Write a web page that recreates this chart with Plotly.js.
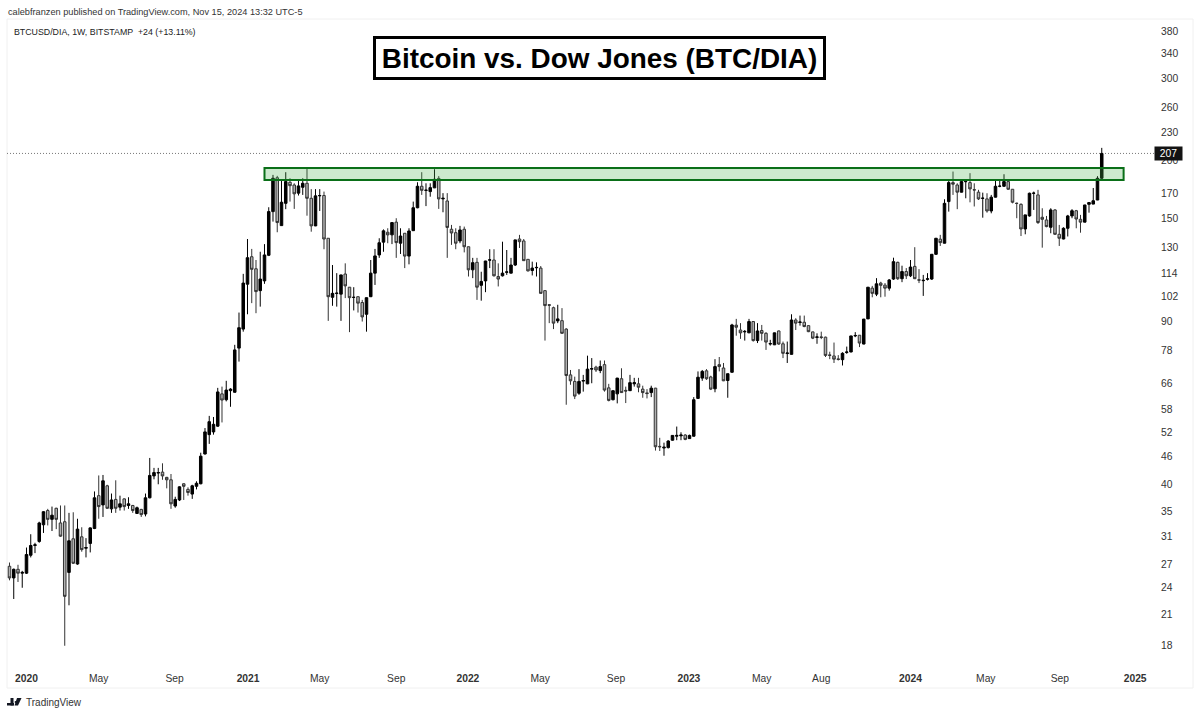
<!DOCTYPE html>
<html><head><meta charset="utf-8">
<script src="https://cdn.plot.ly/plotly-3.0.1.min.js"></script>
<style>html,body{margin:0;padding:0;background:#fff}#c{width:1200px;height:714px}</style>
</head><body><div id="c"></div>
<script>
const firstWeek = [2019, 11, 9];
const openPrices = [
26.7,25.2,26.3,25.8,25.8,28.2,29.6,30.2,32.8,35.2,
33.7,35.6,33.1,33.3,25.9,30.6,27.0,30.9,29.2,29.9,
32.2,37.9,36.2,39.8,35.5,37.2,35.8,37.3,36.1,36.1,
34.7,35.4,34.6,37.5,41.8,42.4,42.6,41.5,41.0,36.0,
37.1,40.2,39.1,38.2,39.7,40.2,46.6,51.3,52.0,53.5,
62.8,61.0,63.8,63.3,78.8,86.6,108.2,124.0,116.8,104.8,
110.0,124.9,155.1,183.5,144.7,161.6,179.4,177.0,170.0,175.0,
178.5,165.7,144.5,167.7,168.0,135.9,101.4,103.3,103.0,113.8,
106.6,101.3,101.7,98.8,93.2,101.7,114.3,125.1,133.3,140.0,
138.2,147.2,132.6,139.3,124.4,141.1,158.1,175.9,172.3,171.3,
174.5,182.9,165.2,163.5,142.1,139.7,134.1,142.1,130.3,116.2,
120.6,107.6,110.0,121.9,122.0,112.4,112.8,114.8,114.3,119.0,
135.4,134.1,122.4,115.8,117.4,117.2,104.8,97.7,96.3,90.2,
90.3,86.6,69.0,66.8,63.0,66.9,66.0,71.0,71.7,70.5,
72.6,64.7,61.0,62.8,67.7,63.9,63.8,66.0,66.0,64.3,
63.1,63.2,64.6,48.4,48.0,48.1,49.9,50.9,51.0,51.2,
50.3,50.9,61.4,67.9,70.4,68.3,64.4,72.6,71.4,67.1,
69.9,88.3,86.2,85.4,85.0,89.9,81.8,86.0,84.8,80.4,
80.1,85.8,80.5,76.7,76.4,90.6,89.5,89.6,88.1,85.4,
83.1,83.3,83.2,76.2,75.8,74.7,74.4,77.1,77.3,83.7,
84.0,80.4,91.1,106.1,103.0,108.8,107.7,106.1,111.0,120.6,
111.2,115.2,112.8,118.2,110.6,110.1,110.9,111.0,125.5,135.3,
132.6,163.0,179.1,177.0,170.8,179.9,179.1,172.9,170.8,165.6,
165.2,155.6,166.6,175.8,175.9,180.0,173.3,161.7,160.8,142.3,
151.8,169.8,168.5,150.8,148.8,143.5,156.4,138.6,135.4,142.8,
151.8,155.8,149.3,147.2,160.8,161.0,164.3,183.0];
const closePrices = [
25.2,26.3,25.8,25.9,28.3,29.6,29.7,33.1,35.0,33.7,
34.4,33.7,31.0,23.0,30.3,27.1,32.1,29.0,29.3,32.3,
37.5,35.9,40.8,35.6,37.1,35.6,36.4,35.9,36.4,35.2,
35.7,34.5,37.5,41.9,42.5,42.5,41.8,41.0,36.4,37.2,
39.6,39.7,38.5,39.8,40.3,46.1,52.0,54.7,54.0,63.4,
60.9,64.0,64.3,78.1,87.2,108.8,123.4,116.5,104.3,111.0,
125.1,155.1,183.0,146.9,162.5,180.0,176.4,169.4,176.2,178.5,
165.7,144.5,167.7,168.0,135.4,101.7,103.4,103.5,113.3,107.3,
101.2,101.4,98.5,92.0,101.2,114.3,124.5,132.9,141.0,138.2,
146.9,133.0,137.4,124.4,140.9,158.1,175.9,172.4,172.5,174.7,
182.1,165.2,165.7,143.4,139.5,132.6,141.6,130.3,116.2,120.4,
106.6,109.7,121.4,122.1,112.8,111.0,114.3,115.0,119.0,134.8,
133.6,121.6,115.6,117.2,117.6,103.4,97.3,97.5,89.2,91.1,
84.8,68.8,67.0,62.1,66.8,67.1,71.0,71.2,70.7,71.9,
64.0,60.8,63.8,67.9,63.2,63.7,66.4,66.4,64.9,63.2,
62.9,64.6,48.3,48.3,48.2,49.7,51.1,51.1,51.2,50.1,
51.1,61.0,68.2,70.2,67.7,64.3,71.9,71.9,67.0,69.4,
88.4,87.4,85.0,85.6,89.9,81.8,85.8,84.8,81.2,80.6,
85.0,80.4,76.8,76.9,90.6,89.2,89.7,87.7,85.5,82.8,
83.3,83.1,76.0,76.0,74.6,74.5,76.8,77.3,83.7,83.9,
80.8,91.0,106.6,103.4,108.4,107.6,106.1,110.5,121.0,111.2,
115.2,112.8,117.8,111.2,110.4,110.3,111.1,125.5,135.9,133.0,
161.6,179.1,177.7,170.8,180.0,180.1,173.6,172.7,165.2,165.8,
155.6,166.6,175.9,176.0,180.0,173.3,162.5,161.5,142.3,152.6,
169.9,170.0,146.9,149.3,144.0,156.4,138.6,135.9,142.8,151.8,
155.8,149.5,147.2,160.3,162.2,163.7,183.0,207.0];
const highPrices = [
27.2,26.4,26.9,26.1,29.3,31.3,30.0,33.3,35.1,35.5,
35.9,35.7,36.1,36.1,34.8,34.9,33.8,32.4,30.7,32.4,
38.7,41.9,42.0,40.0,38.3,40.9,37.9,37.4,37.6,36.2,
35.9,35.5,38.3,45.7,43.5,43.5,44.5,41.6,42.2,37.7,
39.7,40.3,39.5,40.0,40.7,46.9,53.0,56.3,56.0,64.7,
65.1,67.0,64.6,80.1,94.0,113.9,135.4,128.9,122.0,127.1,
132.0,158.5,186.1,185.2,182.1,188.6,183.0,178.5,182.1,183.0,
192.4,173.4,173.4,173.4,171.3,136.0,119.0,114.3,113.4,120.0,
106.7,106.6,101.8,100.1,101.3,122.0,128.9,135.9,142.0,142.8,
147.0,150.1,142.8,139.4,142.8,163.0,179.4,188.6,178.5,178.5,
191.4,185.0,170.0,170.0,145.2,142.8,144.5,144.0,130.4,123.3,
123.3,115.1,121.5,128.7,128.7,120.0,133.6,128.2,123.3,134.9,
138.2,135.4,122.5,121.0,120.6,118.4,104.9,98.0,96.8,97.7,
96.1,87.0,70.7,68.4,71.0,69.0,75.9,75.0,72.2,74.1,
74.1,66.0,63.9,68.0,71.3,65.1,69.0,68.0,68.0,65.4,
64.3,65.4,64.7,50.5,49.3,49.9,51.2,53.4,51.9,51.4,
51.3,61.8,70.2,70.7,71.0,68.7,74.6,75.4,73.2,69.5,
88.9,91.1,89.2,86.2,91.1,90.0,89.2,88.4,85.3,82.1,
85.1,86.0,81.4,81.4,93.2,91.4,92.6,92.6,88.2,85.5,
84.8,85.5,83.4,77.4,81.0,76.1,77.2,79.4,83.8,85.3,
84.1,91.1,106.7,107.3,111.5,109.5,108.8,111.0,123.4,121.0,
118.6,117.2,122.0,130.0,116.6,113.3,114.3,125.7,136.1,138.2,
164.9,180.9,189.2,178.5,182.1,182.1,187.7,178.5,172.8,170.4,
169.9,168.5,182.1,182.1,186.7,180.9,173.4,162.2,161.6,152.7,
170.4,171.3,172.8,157.7,151.8,157.7,157.0,145.2,143.5,152.6,
157.0,156.4,152.6,160.4,162.7,174.4,184.9,212.8];
const lowPrices = [
24.9,22.7,24.7,24.0,25.7,27.9,28.5,30.0,31.5,32.7,
31.8,32.1,30.9,18.0,22.0,27.0,26.9,28.7,27.9,28.6,
32.1,33.8,34.1,35.5,34.8,34.8,35.2,35.2,35.5,34.8,
34.6,34.1,34.2,37.4,41.1,40.1,41.0,39.3,35.5,35.7,
36.9,37.1,37.9,37.3,39.1,40.1,46.5,49.0,51.3,53.3,
54.5,60.5,58.9,63.2,73.7,85.5,93.2,98.5,93.7,96.8,
108.4,124.4,147.6,140.0,144.5,157.0,163.0,157.2,168.0,168.5,
152.0,140.4,144.3,155.6,128.7,90.2,97.2,96.8,90.2,101.0,
85.3,95.0,94.0,89.9,85.5,101.5,107.8,123.3,127.1,132.6,
132.0,123.3,125.7,117.2,119.4,141.0,157.7,168.5,159.4,167.0,
174.3,157.2,154.6,123.3,131.5,128.7,132.6,126.7,112.4,111.5,
100.1,99.7,104.0,117.2,112.4,107.0,112.4,113.3,114.2,118.4,
129.5,121.4,115.2,113.0,112.4,103.3,81.8,89.2,86.6,89.2,
84.7,59.5,65.7,61.2,62.5,63.5,65.9,66.2,70.0,69.6,
63.5,60.5,60.8,59.9,63.1,60.0,63.7,65.1,63.3,61.6,
61.4,61.8,47.4,47.3,46.2,47.9,49.8,49.9,49.9,49.9,
50.2,50.8,61.3,67.0,67.3,64.0,63.3,70.2,66.9,61.6,
69.8,83.8,82.5,81.8,84.9,81.4,80.8,81.8,78.1,79.8,
80.0,80.1,75.0,73.2,76.3,86.2,88.1,87.4,85.3,82.4,
80.5,82.4,75.4,74.6,73.2,74.1,72.3,76.6,77.2,83.2,
79.2,80.3,91.0,101.4,102.0,101.4,101.7,104.8,110.5,110.5,
109.3,111.0,112.1,111.0,108.8,102.1,110.2,110.5,125.1,130.8,
132.5,155.1,168.5,157.0,170.6,165.7,162.4,159.1,164.3,150.5,
154.3,153.8,166.4,175.0,175.3,172.8,161.6,150.1,137.4,138.6,
151.3,156.4,145.9,129.7,143.5,139.3,138.2,130.8,135.2,137.1,
150.1,142.8,139.7,147.1,154.3,160.9,164.2,182.4];
const yTicks = [380,340,300,260,230,200,170,150,130,114,102,90,78,66,58,52,46,40,35,31,27,24,21,18];
const xTickDates = ['2020-01-06','2020-05-04','2020-09-06','2021-01-05','2021-05-03','2021-09-06','2022-01-02','2022-05-01','2022-09-03','2023-01-01','2023-05-01','2023-08-07','2024-01-01','2024-05-04','2024-09-03','2025-01-05'];
const xTickLabels = ['<b>2020</b>','May','Sep','<b>2021</b>','May','Sep','<b>2022</b>','May','Sep','<b>2023</b>','May','Aug','<b>2024</b>','May','Sep','<b>2025</b>'];
const resistanceLow = 181.5, resistanceHigh = 192.6;
const lastPrice = 207;

const weeks = openPrices.map((_, i) =>
  new Date(Date.UTC(firstWeek[0], firstWeek[1], firstWeek[2] + i * 7)).toISOString().slice(0, 10));

const W = 1200, H = 714, L = 7, R = 1155, T = 19, B = 665;
const px = x => (x - L) / (R - L);
const py = y => (B - y) / (B - T);
const FONT = '"Liberation Sans", Arial, sans-serif';

const trace = {
  type: 'candlestick', x: weeks, open: openPrices, high: highPrices, low: lowPrices, close: closePrices,
  increasing: {line: {color: '#000', width: 1}, fillcolor: '#000'},
  decreasing: {line: {color: '#333', width: 1}, fillcolor: '#b0b0b0'},
  whiskerwidth: 0, hoverinfo: 'skip', showlegend: false
};
const txt = (x, y, text, size, color, anchor, extra) => Object.assign({
  xref: 'paper', yref: 'paper', x: px(x), y: py(y), text, showarrow: false,
  xanchor: anchor || 'left', yanchor: 'middle',
  font: {family: FONT, size, color: color || '#222'}
}, extra || {});

const layout = {
  width: W, height: H, paper_bgcolor: '#fff', plot_bgcolor: '#fff', showlegend: false,
  margin: {l: L, r: W - R, t: T, b: H - B, pad: 0},
  boxgap: 0.15,
  xaxis: {
    type: 'date', range: ['2019-12-04 21:36', '2025-02-06 17:00'], rangeslider: {visible: false},
    tickmode: 'array', tickvals: xTickDates, ticktext: xTickLabels, ticks: 'outside', ticklen: 4, tickcolor: 'rgba(0,0,0,0)',
    showgrid: false, zeroline: false, showline: false, fixedrange: true,
    tickfont: {family: FONT, size: 10.3, color: '#333'}
  },
  yaxis: {
    type: 'log', side: 'right', range: [1.2138, 2.6056],
    tickmode: 'array', tickvals: yTicks, ticktext: yTicks.map(String), ticks: 'outside', ticklen: 3, tickcolor: 'rgba(0,0,0,0)',
    showgrid: false, zeroline: false, showline: false, fixedrange: true,
    tickfont: {family: FONT, size: 10.3, color: '#333'}
  },
  shapes: [
    {type: 'rect', xref: 'paper', yref: 'paper', x0: 0, x1: px(1193), y0: py(688), y1: 1, line: {color: '#f0f0f0', width: 1}, layer: 'below'},
    {type: 'line', xref: 'paper', yref: 'y', x0: 0, x1: 1, y0: lastPrice, y1: lastPrice, line: {color: '#777', width: 1, dash: '1px,2px'}, layer: 'below'},
    {type: 'rect', xref: 'x', yref: 'y', x0: '2021-02-01', x1: '2024-12-17', y0: resistanceLow, y1: resistanceHigh, line: {color: '#0a6f18', width: 2}, fillcolor: 'rgba(76,175,80,0.28)', layer: 'above'},
    {type: 'rect', xref: 'paper', yref: 'paper', x0: px(7), x1: px(14), y0: py(703), y1: py(705.5), fillcolor: '#131722', line: {width: 0}},
    {type: 'rect', xref: 'paper', yref: 'paper', x0: px(10.5), x1: px(13.5), y0: py(698), y1: py(705.5), fillcolor: '#131722', line: {width: 0}},
    {type: 'path', xref: 'paper', yref: 'paper', path: `M ${px(17)} ${py(698)} L ${px(21.5)} ${py(698)} L ${px(18)} ${py(705.5)} L ${px(14.5)} ${py(705.5)} Z`, fillcolor: '#131722', line: {width: 0}},
    {type: 'circle', xref: 'paper', yref: 'paper', x0: px(14.6), x1: px(16.6), y0: py(701), y1: py(703), fillcolor: '#131722', line: {width: 0}}
  ],
  annotations: [
    txt(6, 11.5, 'calebfranzen published on TradingView.com, Nov 15, 2024 13:32 UTC-5', 9.2, '#333'),
    txt(12, 31.5, 'BTCUSD/DIA, 1W, BITSTAMP&nbsp;&nbsp;+24 (+13.11%)', 8.8, '#222'),
    txt(24, 702, 'TradingView', 10, '#333'),
    txt(599, 58, '<b>Bitcoin vs. Dow Jones (BTC/DIA)</b>', 27.9, '#000', 'center', {bordercolor: '#000', borderwidth: 3, bgcolor: '#fff', width: 447, height: 38, borderpad: 0}),
    {xref: 'paper', yref: 'y', x: px(1168), y: Math.log10(lastPrice), text: String(lastPrice), showarrow: false, xanchor: 'center', yanchor: 'middle',
     bgcolor: '#131313', width: 25, height: 11, borderpad: 1, font: {family: FONT, size: 10.3, color: '#fff'}}
  ]
};
Plotly.newPlot('c', [trace], layout, {staticPlot: true, displayModeBar: false});
</script></body></html>
